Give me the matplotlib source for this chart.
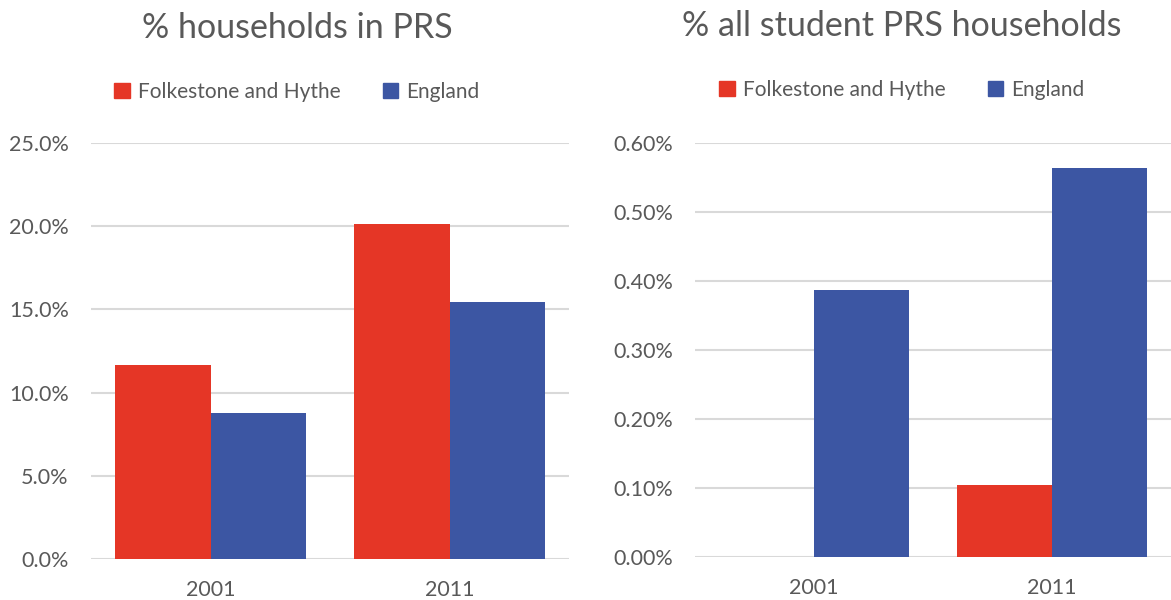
import numpy as np
import matplotlib.pyplot as plt
from matplotlib.ticker import FuncFormatter
from matplotlib.patches import Patch

years = ['2001', '2011']
series_names = ['Folkestone and Hythe', 'England']

prs_folkestone = [11.66, 20.16]
prs_england = [8.80, 15.42]

student_folkestone = [0.0, 0.104]
student_england = [0.387, 0.564]

RED = '#E53626'
BLUE = '#3C56A3'
GREY = '#595959'
GRID = '#D9D9D9'

plt.rcParams['font.family'] = ['Lato', 'DejaVu Sans']

fig = plt.figure(figsize=(11.71, 6), dpi=100)


def draw_panel(ax, a, b, ymax, step, fmt, title, cx, title_y, legend_y):
    x = np.arange(len(years))
    w = 0.4
    ax.bar(x - w / 2, a, w, color=RED)
    ax.bar(x + w / 2, b, w, color=BLUE)
    ax.set_xlim(-0.5, len(years) - 0.5)
    ax.set_ylim(0, ymax)
    ax.set_yticks(np.arange(0, ymax + step / 2, step))
    ax.yaxis.set_major_formatter(FuncFormatter(lambda v, p: fmt.format(v)))
    ax.set_xticks(x)
    ax.set_xticklabels(years)
    for s in ax.spines.values():
        s.set_visible(False)
    ax.grid(axis='y', color=GRID, linewidth=1.5)
    ax.set_axisbelow(True)
    ax.tick_params(axis='both', length=0, labelsize=15.5, colors=GREY)
    ax.tick_params(axis='x', pad=15)
    ax.tick_params(axis='y', pad=16)
    fig.text(cx, title_y, title, fontsize=24.5, color=GREY, ha='center', va='center')
    handles = [Patch(color=RED), Patch(color=BLUE)]
    fig.legend(handles, series_names, loc='center', bbox_to_anchor=(cx, legend_y),
               ncol=2, frameon=False, fontsize=15, labelcolor=GREY,
               handlelength=0.75, handleheight=0.75, handletextpad=0.4,
               columnspacing=2.0)


ax1 = fig.add_axes([91 / 1171, 1 - 559 / 600, 478 / 1171, 416 / 600])
draw_panel(ax1, prs_folkestone, prs_england, 25, 5, '{:.1f}%',
           '% households in PRS', 297 / 1171, 1 - 28 / 600, 1 - 92 / 600)

ax2 = fig.add_axes([695 / 1171, 1 - 557 / 600, 476 / 1171, 414 / 600])
draw_panel(ax2, student_folkestone, student_england, 0.6, 0.1, '{:.2f}%',
           '% all student PRS households', 902 / 1171, 1 - 26 / 600, 1 - 90 / 600)

fig.savefig('out.png', dpi=100)
